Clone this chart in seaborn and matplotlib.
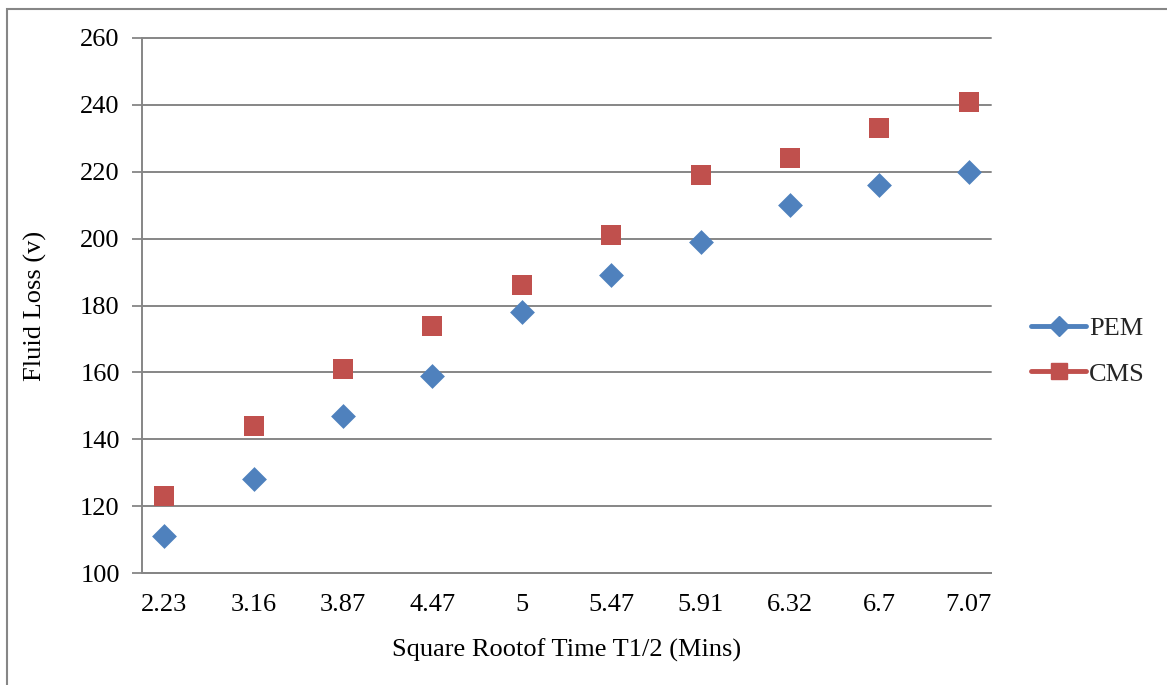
import numpy as np
import pandas as pd
import matplotlib
matplotlib.use("Agg")
import matplotlib.pyplot as plt
from matplotlib.lines import Line2D
from matplotlib.patches import Rectangle
import seaborn as sns

# Square root of time (category labels on the x axis)
time_labels = ["2.23", "3.16", "3.87", "4.47", "5", "5.47", "5.91", "6.32", "6.7", "7.07"]
# Fluid loss per mud system
pem_loss = [111, 128, 147, 159, 178, 189, 199, 210, 216, 220]
cms_loss = [123, 144, 161, 174, 186, 201, 219, 224, 233, 241]
series_names = ["PEM", "CMS"]
y_ticks = [100, 120, 140, 160, 180, 200, 220, 240, 260]

colors = {"PEM": "#4F81BD", "CMS": "#C0504D"}
markers = {"PEM": "D", "CMS": "s"}
grid_gray = "#868686"
FS = 19

df = pd.DataFrame({
    "pos": list(range(len(time_labels))) * 2,
    "loss": pem_loss + cms_loss,
    "series": ["PEM"] * len(pem_loss) + ["CMS"] * len(cms_loss),
})

sns.set_theme(style="white")
plt.rcParams["font.family"] = ["Liberation Serif", "DejaVu Serif"]

fig = plt.figure(figsize=(11.67, 6.85), dpi=100)
W, H = 1167, 685
ax = fig.add_axes([142 / W, 1 - 573 / H, (991 - 142) / W, (573 - 38) / H])

for name in series_names:
    sub = df[df["series"] == name]
    sns.scatterplot(data=sub, x="pos", y="loss", ax=ax, color=colors[name],
                    marker=markers[name], s=205 if name == "CMS" else 160,
                    linewidth=0, legend=False, zorder=3)

ax.set_xlim(-0.25, len(time_labels) - 0.75)
ax.set_ylim(100, 260)
ax.set_yticks(y_ticks)
ax.set_yticklabels([str(v) for v in y_ticks], fontsize=FS, color="black")

# Category labels without marks, tick marks at half-category steps
ax.set_xticks(range(len(time_labels)))
ax.set_xticklabels(time_labels, fontsize=FS, color="black")
ax.tick_params(axis="x", length=0, pad=15)
ax.set_xticks(np.arange(-0.25, len(time_labels) - 0.7, 0.5), minor=True)
ax.tick_params(axis="x", which="minor", length=7, width=1.3, color=grid_gray, direction="in")
ax.tick_params(axis="y", length=7, width=1.3, color=grid_gray, direction="out", pad=9, left=True)

ax.grid(axis="y", color=grid_gray, linewidth=1.4)
ax.grid(axis="x", visible=False)
for gl in ax.get_ygridlines():
    gl.set_clip_on(False)
for side in ["top", "right"]:
    ax.spines[side].set_visible(False)
for side in ["left", "bottom"]:
    ax.spines[side].set_color(grid_gray)
    ax.spines[side].set_linewidth(1.4)

ax.set_xlabel("Square Rootof Time T1/2 (Mins)", fontsize=FS, labelpad=16.5, color="black")
ax.set_ylabel("Fluid Loss (v)", fontsize=FS, labelpad=24, color="black")

handles = [Line2D([0], [0], color=colors[n], marker=markers[n], lw=3.5,
                  markersize=10 if n == "PEM" else 12) for n in series_names]
fig.legend(handles, series_names, loc="center left", bbox_to_anchor=(1031 / W, 1 - 351 / H),
           frameon=False, fontsize=FS, handlelength=2.1, handletextpad=0.1,
           labelspacing=0.85, borderaxespad=0, borderpad=0)

# Chart-area frame
fig.patches.append(Rectangle((7 / W, -0.1), 1.2, 1 - 9 / H + 0.1, transform=fig.transFigure,
                             fill=False, edgecolor=grid_gray, linewidth=1.5))

fig.savefig("out.png", dpi=100)
